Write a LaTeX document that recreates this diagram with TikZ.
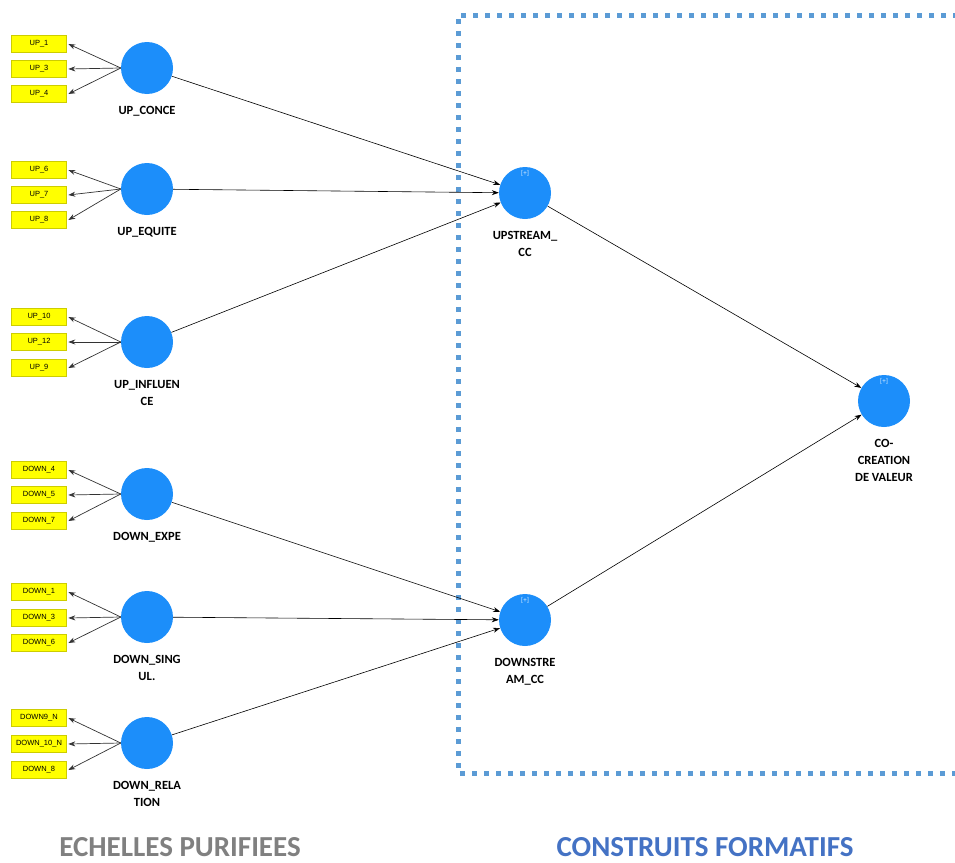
\documentclass[tikz,border=0pt]{standalone}
\usepackage{fontspec}
\setmainfont{Carlito}
\newfontfamily\itemfont{Liberation Sans}
\usetikzlibrary{arrows,arrows.meta,positioning}

\definecolor{latentblue}{RGB}{28,142,250}
\definecolor{itemyellow}{RGB}{255,255,0}
\definecolor{itemborder}{RGB}{205,205,0}
\definecolor{boxblue}{RGB}{91,155,213}
\definecolor{titlegrey}{RGB}{128,128,128}
\definecolor{titleblue}{RGB}{68,114,196}

\tikzset{
  latent/.style={circle,fill=latentblue,minimum size=52pt,inner sep=0pt},
  indic/.style={rectangle,fill=itemyellow,draw=itemborder,line width=0.6pt,
    minimum width=55pt,minimum height=17pt,inner sep=0pt,
    font=\itemfont\fontsize{7.5}{8}\selectfont},
  lvname/.style={font=\bfseries\fontsize{12.5}{17}\selectfont,align=center,
    label distance=8.5pt},
  formplus/.style={text=white!85!latentblue,font=\fontsize{7}{8}\selectfont,
    label distance=-13pt},
  loading/.style={-{Stealth[length=7pt,width=5pt]},draw=black!80,line width=0.7pt},
  structpath/.style={-{Stealth[length=7pt,width=5pt]},draw=black,line width=0.6pt},
  title/.style={font=\bfseries\fontsize{29}{32}\selectfont}
}

\begin{document}
\begin{tikzpicture}[x=1pt,y=-1pt]
  \useasboundingbox (0,0) rectangle (955,862);

  % construits formatifs
  \draw[boxblue,line width=5pt,dash pattern=on 5pt off 7pt]
    (958,15) -- (458,15) -- (458,773) -- (958,773);

  % variables latentes
  \node[latent,label={[lvname]below:UP\_CONCE}] (conce) at (147,68) {};
  \node[latent,label={[lvname]below:UP\_EQUITE}] (equite) at (147,189) {};
  \node[latent,label={[lvname]below:UP\_INFLUEN\\CE}] (influence) at (147,342) {};
  \node[latent,label={[lvname]below:DOWN\_EXPE}] (expe) at (147,494) {};
  \node[latent,label={[lvname]below:DOWN\_SING\\UL.}] (sing) at (147,617) {};
  \node[latent,label={[lvname]below:DOWN\_RELA\\TION}] (relation) at (147,743) {};

  \node[latent,label={[lvname]below:UPSTREAM\_\\CC},label={[formplus]above:[+]}] (upcc) at (525,193) {};
  \node[latent,label={[lvname]below:DOWNSTRE\\AM\_CC},label={[formplus]above:[+]}] (downcc) at (525,620) {};
  \node[latent,label={[lvname]below:CO-\\CREATION\\DE VALEUR},label={[formplus]above:[+]}] (cocreation) at (884,401) {};

  % indicateurs
  \node[indic] (up1) at (39,44) {UP\_1};
  \node[indic] (up3) at (39,69) {UP\_3};
  \node[indic] (up4) at (39,94) {UP\_4};
  \node[indic] (up6) at (39,170) {UP\_6};
  \node[indic] (up7) at (39,195) {UP\_7};
  \node[indic] (up8) at (39,220) {UP\_8};
  \node[indic] (up10) at (39,317) {UP\_10};
  \node[indic] (up12) at (39,342) {UP\_12};
  \node[indic] (up9) at (39,368) {UP\_9};
  \node[indic] (down4) at (39,470) {DOWN\_4};
  \node[indic] (down5) at (39,495) {DOWN\_5};
  \node[indic] (down7) at (39,521) {DOWN\_7};
  \node[indic] (down1) at (39,592) {DOWN\_1};
  \node[indic] (down3) at (39,618) {DOWN\_3};
  \node[indic] (down6) at (39,643) {DOWN\_6};
  \node[indic] (down9n) at (39,718) {DOWN9\_N};
  \node[indic] (down10n) at (39,744) {DOWN\_10\_N};
  \node[indic] (down8) at (39,770) {DOWN\_8};

  % poids externes
  \foreach \lv/\a/\b/\c in {conce/up1/up3/up4,equite/up6/up7/up8,
      influence/up10/up12/up9,expe/down4/down5/down7,
      sing/down1/down3/down6,relation/down9n/down10n/down8}{
    \draw[loading] (\lv.west) -- ([xshift=1.5pt]\a.east);
    \draw[loading] (\lv.west) -- ([xshift=1.5pt]\b.east);
    \draw[loading] (\lv.west) -- ([xshift=1.5pt]\c.east);
  }

  % relations structurelles
  \draw[structpath] (conce) -- (upcc);
  \draw[structpath] (equite) -- (upcc);
  \draw[structpath] (influence) -- (upcc);
  \draw[structpath] (expe) -- (downcc);
  \draw[structpath] (sing) -- (downcc);
  \draw[structpath] (relation) -- (downcc);
  \draw[structpath] (upcc) -- (cocreation);
  \draw[structpath] (downcc) -- (cocreation);

  % titres
  \node[title,text=titlegrey] (echelles) at (180,847) {ECHELLES PURIFIEES};
  \node[title,text=titleblue] (construits) at (705,847) {CONSTRUITS FORMATIFS};
\end{tikzpicture}
\end{document}
